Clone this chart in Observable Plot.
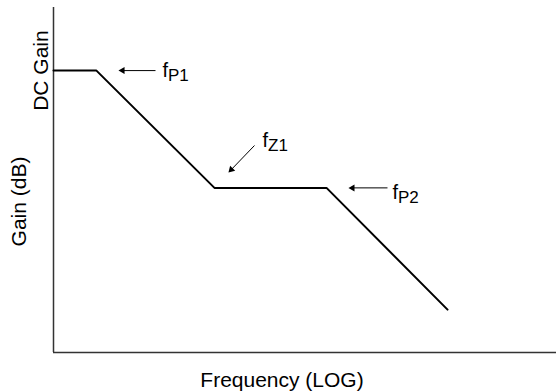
<!DOCTYPE html>
<html><head><meta charset="utf-8">
<script src="https://cdn.jsdelivr.net/npm/d3@7"></script>
<script src="https://cdn.jsdelivr.net/npm/@observablehq/plot@0.6"></script>
<style>html,body{margin:0;padding:0;background:#fff;}</style>
</head><body>
<script>
// Asymptotic gain curve (x in decades of log frequency, y in dB)
const freqDecades = [0, 0.427, 1.600, 2.714, 3.917];
const gainDb = [57.2, 57.2, 33.4, 33.4, 8.7];

// Break-point annotations
const markerNames = ["P1", "Z1", "P2"];
const arrowFromX = [1.014, 1.998, 3.320];
const arrowFromY = [57.2, 42.0, 33.4];
const arrowHeadX = [0.686, 1.767, 2.972];
const arrowHeadY = [57.2, 37.1, 33.4];
const arrowAngle = [270, 224, 270];
const labelX = [1.083, 2.078, 3.370];
const labelY = [55.8, 41.6, 31.2];

// Axis titles
const xLabel = "Frequency (LOG)";
const yLabel = "Gain (dB)";
const dcLabel = "DC Gain";
const dcGain = 57.2;

const chart = Plot.plot({
  width: 556,
  height: 392,
  marginLeft: 53,
  marginRight: 0,
  marginTop: 7,
  marginBottom: 40,
  x: {domain: [0, 5], axis: null},
  y: {domain: [0, 70], axis: null},
  style: {fontFamily: "'Liberation Sans', Arial, sans-serif", background: "#fff", color: "#000"},
  marks: [
    Plot.ruleX([0], {stroke: "#333", strokeWidth: 1.5}),
    Plot.ruleY([0], {stroke: "#333", strokeWidth: 1.5}),
    Plot.line(gainDb, {x: freqDecades, y: gainDb, stroke: "#000", strokeWidth: 2}),
    Plot.link(markerNames, {x1: arrowFromX, y1: arrowFromY, x2: arrowHeadX, y2: arrowHeadY, stroke: "#000", strokeWidth: 1}),
    Plot.dot(markerNames, {x: arrowHeadX, y: arrowHeadY, symbol: "triangle", r: 2.6, fill: "#000", stroke: "none", rotate: arrowAngle}),
    Plot.text(markerNames, {x: labelX, y: labelY, text: () => "f", textAnchor: "start", lineAnchor: "bottom", fontSize: 20, fill: "#000"}),
    Plot.text(markerNames, {x: labelX, y: labelY, text: d => d, textAnchor: "start", lineAnchor: "bottom", fontSize: 17, dx: 5.5, dy: 4, fill: "#000"}),
    Plot.text([dcLabel], {frameAnchor: "left", y: [dcGain], text: d => d, rotate: -90, textAnchor: "middle", lineAnchor: "bottom", dx: -6, fontSize: 21, fill: "#000"}),
    Plot.text([yLabel], {frameAnchor: "left", text: d => d, rotate: -90, textAnchor: "middle", lineAnchor: "bottom", dx: -28, dy: 21.5, fontSize: 21, fill: "#000"}),
    Plot.text([xLabel], {frameAnchor: "bottom", text: d => d, textAnchor: "middle", lineAnchor: "bottom", dx: -23, dy: 34, fontSize: 21, fill: "#000"})
  ]
});
document.body.appendChild(chart);
</script>
</body></html>
